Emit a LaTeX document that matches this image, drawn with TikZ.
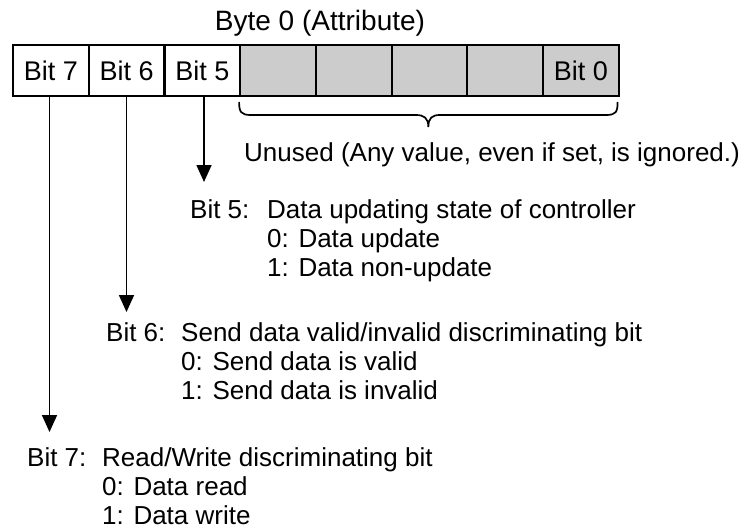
\documentclass[tikz,border=0pt]{standalone}
\usepackage{fontspec}
\setmainfont{Liberation Sans}
\usetikzlibrary{arrows.meta}
\definecolor{unusedgray}{HTML}{CCCCCC}
\begin{document}
\begin{tikzpicture}[x=1pt,y=-1pt,
  txt/.style={font=\fontsize{26}{30}\selectfont, inner sep=0pt, anchor=base west},
  cell/.style={draw, line width=2.2pt, minimum width=75.7pt, minimum height=51pt,
    inner sep=0pt, anchor=north west, font=\fontsize{27}{31}\selectfont,
    text height=19.3pt, text depth=0pt},
  unused/.style={cell, fill=unusedgray},
  arr/.style={line width=1.7pt, -{Triangle[length=17pt,width=15pt]}},
  bracestyle/.style={line width=1.7pt}]
\useasboundingbox (0,0) rectangle (752,530);
% title
\node[font=\fontsize{28}{32}\selectfont, inner sep=0pt, anchor=base] (title) at (320,30) {Byte 0 (Attribute)};
% cells
\node[cell] (c7) at (12,44) {Bit 7};
\node[cell] (c6) at (87.7,44) {Bit 6};
\node[cell] (c5) at (163.4,44) {Bit 5};
\node[unused] (c4) at (239.1,44) {};
\node[unused] (c3) at (314.8,44) {};
\node[unused] (c2) at (390.5,44) {};
\node[unused] (c1) at (466.2,44) {};
\node[unused] (c0) at (541.9,44) {Bit 0};
% brace
\coordinate (bl) at (239.1,102);
\coordinate (br) at (617.6,102);
\coordinate (btip) at (428.35,127);
\draw[bracestyle] (bl) .. controls (239.1,112) and (241,115) .. (251,115) -- (416,115)
  .. controls (424,115) and (428.35,118) .. (btip)
  .. controls (428.35,118) and (432,115) .. (440,115) -- (606,115)
  .. controls (616,115) and (617.6,112) .. (br);
\node[txt] (unusedtxt) at (244,161) {Unused (Any value, even if set, is ignored.)};
% Bit 5
\node[txt] (b5lab) at (190,218) {Bit 5:};
\node[txt] (b5a) at (267,218) {Data updating state of controller};
\node[txt] (b5b) at (267,247) {0: Data update};
\node[txt] (b5c) at (267,276) {1: Data non-update};
% Bit 6
\node[txt] (b6lab) at (106,341) {Bit 6:};
\node[txt] (b6a) at (181,341) {Send data valid/invalid discriminating bit};
\node[txt] (b6b) at (181,370) {0: Send data is valid};
\node[txt] (b6c) at (181,399) {1: Send data is invalid};
% Bit 7
\node[txt] (b7lab) at (27,466) {Bit 7:};
\node[txt] (b7a) at (102,466) {Read/Write discriminating bit};
\node[txt] (b7b) at (102,495) {0: Data read};
\node[txt] (b7c) at (102,524) {1: Data write};
% arrows
\coordinate (t5) at (204,182);
\coordinate (t6) at (126.5,312);
\coordinate (t7) at (49.5,432);
\draw[arr] (c5.south -| t5) -- (t5);
\draw[arr] (c6.south -| t6) -- (t6);
\draw[arr] (c7.south -| t7) -- (t7);
\end{tikzpicture}
\end{document}
